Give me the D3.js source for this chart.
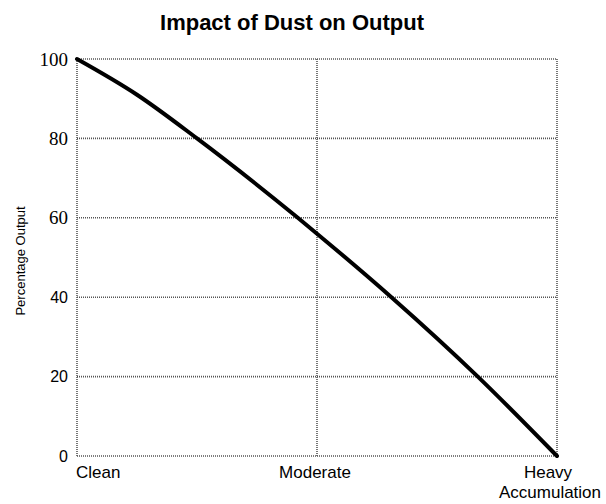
<!DOCTYPE html>
<html><head><meta charset="utf-8">
<script src="https://cdn.jsdelivr.net/npm/d3@7"></script>
<style>body{margin:0;background:#fff}svg{display:block}</style>
</head><body>
<svg id="c" width="606" height="504"></svg>
<script>
const categories = ["Clean", "Moderate", "Heavy Accumulation"];
const xPos = [0, 0.25, 0.5, 0.92, 1, 1.31, 1.67, 2];
const outputValues = [100, 91, 80, 60, 56, 40, 20, 0];
const yTicks = [0, 20, 40, 60, 80, 100];
const title = "Impact of Dust on Output";
const yTitle = "Percentage Output";

const svg = d3.select("#c");
const m = {l: 77, r: 557, t: 59, b: 456};
const x = d3.scaleLinear().domain([0, 2]).range([m.l, m.r]);
const y = d3.scaleLinear().domain([0, 100]).range([m.b, m.t]);

const grid = svg.append("g").attr("stroke", "#555").attr("stroke-width", 1.6).attr("stroke-dasharray", "1 1").attr("fill", "none");
grid.selectAll(".h").data(yTicks).join("line")
  .attr("x1", m.l).attr("x2", m.r).attr("y1", d => y(d)).attr("y2", d => y(d));
grid.selectAll(".v").data(categories).join("line")
  .attr("x1", (d, i) => x(i)).attr("x2", (d, i) => x(i)).attr("y1", m.t).attr("y2", m.b);

svg.append("g").selectAll("text").data(yTicks).join("text")
  .attr("x", 68).attr("y", d => y(d)).attr("dy", "0.35em").attr("text-anchor", "end")
  .attr("font-family", d => d >= 60 ? "Liberation Serif, serif" : "Liberation Sans, Arial, sans-serif")
  .attr("font-size", d => d >= 60 ? 19 : 16).attr("fill", "#000").text(d => d);

const xl = svg.append("g").attr("font-family", "Liberation Sans, Arial, sans-serif").attr("font-size", 17).attr("fill", "#000");
xl.append("text").attr("x", x(0) - 1).attr("y", 478).attr("text-anchor", "start").text(categories[0]);
xl.append("text").attr("x", x(1) - 2).attr("y", 478).attr("text-anchor", "middle").text(categories[1]);
const parts = categories[2].split(" ");
xl.append("text").attr("x", x(2) - 9).attr("y", 478).attr("text-anchor", "middle").text(parts[0]);
xl.append("text").attr("x", x(2) - 7).attr("y", 498).attr("text-anchor", "middle").text(parts[1]);

svg.append("text").attr("transform", `translate(25,261) rotate(-90)`).attr("text-anchor", "middle")
  .attr("font-family", "Liberation Sans, Arial, sans-serif").attr("font-size", 13).text(yTitle);

svg.append("text").attr("x", 292).attr("y", 30).attr("text-anchor", "middle")
  .attr("font-family", "Liberation Sans, Arial, sans-serif").attr("font-weight", "bold").attr("font-size", 22).text(title);

const line = d3.line().x((d, i) => x(xPos[i])).y(d => y(d)).curve(d3.curveMonotoneX);
svg.append("path").datum(outputValues).attr("d", line).attr("fill", "none")
  .attr("stroke", "#000").attr("stroke-width", 4).attr("stroke-linecap", "round");
</script>
</body></html>
